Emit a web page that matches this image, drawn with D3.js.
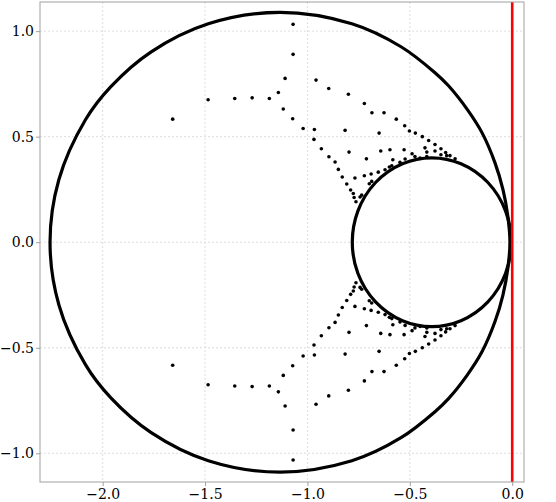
<!DOCTYPE html>
<html>
<head>
<meta charset="utf-8">
<script src="https://cdn.jsdelivr.net/npm/d3@7"></script>
<style>
  body { margin: 0; background: #fff; }
  .tick text { font-family: "DejaVu Serif", serif; font-size: 14px; fill: #000; }
</style>
</head>
<body>
<svg id="chart"></svg>
<script>
// ticks
const xTicks = [-2.0, -1.5, -1.0, -0.5, 0.0];
const yTicks = [-1.0, -0.5, 0.0, 0.5, 1.0];

// outer boundary curve (x, y)
const outerX = [-0.011, -0.021, -0.045, -0.084, -0.147, -0.218, -0.311, -0.377, -0.543, -0.783, -1.134, -1.484, -1.763, -1.961, -2.084, -2.214, -2.257,
                -2.214, -2.084, -1.961, -1.763, -1.484, -1.134, -0.783, -0.543, -0.377, -0.311, -0.218, -0.147, -0.084, -0.045, -0.021];
const outerY = [0.000, 0.121, 0.249, 0.376, 0.518, 0.627, 0.741, 0.803, 0.926, 1.035, 1.089, 1.035, 0.902, 0.736, 0.580, 0.296, 0.000,
                -0.296, -0.580, -0.736, -0.902, -1.035, -1.089, -1.035, -0.926, -0.803, -0.741, -0.627, -0.518, -0.376, -0.249, -0.121];

// inner circle
const innerCx = -0.393, innerRx = 0.388, innerRy = 0.400;

// scattered points (upper half then lower half)
const dotsUpper = [
  [-1.658, 0.583], [-1.485, 0.675], [-1.355, 0.681], [-1.270, 0.684], [-1.186, 0.681],
  [-1.142, 0.709], [-1.109, 0.776], [-1.118, 0.631], [-1.072, 0.585], [-1.021, 0.539],
  [-0.966, 0.534], [-0.968, 0.487], [-0.932, 0.443], [-0.895, 0.405], [-0.865, 0.380],
  [-0.849, 0.345], [-0.830, 0.309], [-0.808, 0.276], [-0.789, 0.247], [-0.776, 0.231],
  [-0.772, 0.212], [-0.763, 0.192], [-0.743, 0.214], [-0.735, 0.223], [-0.958, 0.768],
  [-0.896, 0.728], [-0.800, 0.701], [-0.816, 0.530], [-0.797, 0.427], [-1.070, 1.032],
  [-1.070, 0.890], [-0.722, 0.657], [-0.685, 0.613], [-0.626, 0.613], [-0.566, 0.583],
  [-0.525, 0.552], [-0.502, 0.527], [-0.473, 0.517], [-0.439, 0.500], [-0.408, 0.482],
  [-0.377, 0.463], [-0.348, 0.443], [-0.325, 0.425], [-0.304, 0.410], [-0.279, 0.395],
  [-0.650, 0.517], [-0.712, 0.395], [-0.642, 0.432], [-0.597, 0.438], [-0.528, 0.438],
  [-0.489, 0.419], [-0.426, 0.447], [-0.417, 0.427], [-0.377, 0.432], [-0.348, 0.414],
  [-0.320, 0.410], [-0.583, 0.391], [-0.548, 0.378], [-0.523, 0.394], [-0.475, 0.406],
  [-0.450, 0.399], [-0.417, 0.406], [-0.768, 0.304], [-0.722, 0.315], [-0.689, 0.323],
  [-0.654, 0.332], [-0.621, 0.343], [-0.600, 0.356], [-0.588, 0.362], [-0.698, 0.277],
  [-0.686, 0.288]
];
const dotsLower = [
  [-1.658, -0.583], [-1.485, -0.675], [-1.355, -0.681], [-1.270, -0.684], [-1.186, -0.681],
  [-1.142, -0.709], [-1.109, -0.776], [-1.118, -0.631], [-1.072, -0.585], [-1.021, -0.539],
  [-0.966, -0.534], [-0.968, -0.487], [-0.932, -0.443], [-0.895, -0.405], [-0.865, -0.380],
  [-0.849, -0.345], [-0.830, -0.309], [-0.808, -0.276], [-0.789, -0.247], [-0.776, -0.231],
  [-0.772, -0.212], [-0.763, -0.192], [-0.743, -0.214], [-0.735, -0.223], [-0.958, -0.768],
  [-0.896, -0.728], [-0.800, -0.701], [-0.816, -0.530], [-0.797, -0.427], [-1.070, -1.032],
  [-1.070, -0.890], [-0.722, -0.657], [-0.685, -0.613], [-0.626, -0.613], [-0.566, -0.583],
  [-0.525, -0.552], [-0.502, -0.527], [-0.473, -0.517], [-0.439, -0.500], [-0.408, -0.482],
  [-0.377, -0.463], [-0.348, -0.443], [-0.325, -0.425], [-0.304, -0.410], [-0.279, -0.395],
  [-0.650, -0.517], [-0.712, -0.395], [-0.642, -0.432], [-0.597, -0.438], [-0.528, -0.438],
  [-0.489, -0.419], [-0.426, -0.447], [-0.417, -0.427], [-0.377, -0.432], [-0.348, -0.414],
  [-0.320, -0.410], [-0.583, -0.391], [-0.548, -0.378], [-0.523, -0.394], [-0.475, -0.406],
  [-0.450, -0.399], [-0.417, -0.406], [-0.768, -0.304], [-0.722, -0.315], [-0.689, -0.323],
  [-0.654, -0.332], [-0.621, -0.343], [-0.600, -0.356], [-0.588, -0.362], [-0.698, -0.277],
  [-0.686, -0.288]
];

const width = 556;
const height = 502;
const margin = { top: 2, right: 32, bottom: 20, left: 40 };

const xScale = d3.scaleLinear()
    .domain([-2.306, 0.0576])
    .range([margin.left, width - margin.right]);

const yScale = d3.scaleLinear()
    .domain([-1.136, 1.138])
    .range([height - margin.bottom, margin.top]);

const svg = d3.select("#chart")
    .attr("width", width)
    .attr("height", height);

const fmt = d => d3.format(".1f")(d).replace("-", "\u2212");

// grid
svg.append("g")
    .selectAll("line")
    .data(xTicks)
    .join("line")
    .attr("x1", d => xScale(d)).attr("x2", d => xScale(d))
    .attr("y1", margin.top).attr("y2", height - margin.bottom)
    .attr("stroke", "#d4d4d4").attr("stroke-width", 0.8).attr("stroke-dasharray", "2,2");

svg.append("g")
    .selectAll("line")
    .data(yTicks)
    .join("line")
    .attr("y1", d => yScale(d)).attr("y2", d => yScale(d))
    .attr("x1", margin.left).attr("x2", width - margin.right)
    .attr("stroke", "#d4d4d4").attr("stroke-width", 0.8).attr("stroke-dasharray", "2,2");

// outer curve
const pts = outerX.map((x, i) => [x, outerY[i]]);
svg.append("path")
    .datum(pts)
    .attr("fill", "none")
    .attr("stroke", "#000")
    .attr("stroke-width", 3.2)
    .attr("d", d3.line()
        .x(d => xScale(d[0]))
        .y(d => yScale(d[1]))
        .curve(d3.curveCatmullRomClosed));

// inner circle
svg.append("ellipse")
    .attr("cx", xScale(innerCx))
    .attr("cy", yScale(0))
    .attr("rx", xScale(innerCx + innerRx) - xScale(innerCx))
    .attr("ry", yScale(0) - yScale(innerRy))
    .attr("fill", "none")
    .attr("stroke", "#000")
    .attr("stroke-width", 3.2);

// points
svg.append("g")
    .selectAll("circle")
    .data(dotsUpper.concat(dotsLower))
    .join("circle")
    .attr("cx", d => xScale(d[0]))
    .attr("cy", d => yScale(d[1]))
    .attr("r", 1.8)
    .attr("fill", "#000");

// red line at x = 0
svg.append("line")
    .attr("x1", xScale(0)).attr("x2", xScale(0))
    .attr("y1", margin.top).attr("y2", height - margin.bottom)
    .attr("stroke", "#ff0000")
    .attr("stroke-width", 2.6);

// frame
svg.append("rect")
    .attr("x", margin.left).attr("y", margin.top)
    .attr("width", width - margin.left - margin.right)
    .attr("height", height - margin.top - margin.bottom)
    .attr("fill", "none")
    .attr("stroke", "#a0a0a0")
    .attr("stroke-width", 1);

// axes
const xAxis = svg.append("g")
    .attr("transform", `translate(0, ${height - margin.bottom})`)
    .call(d3.axisBottom(xScale).tickValues(xTicks).tickFormat(fmt).tickSize(4).tickPadding(3));

const yAxis = svg.append("g")
    .attr("transform", `translate(${margin.left}, 0)`)
    .call(d3.axisLeft(yScale).tickValues(yTicks).tickFormat(fmt).tickSize(4).tickPadding(2));

[xAxis, yAxis].forEach(g => {
  g.select(".domain").remove();
  g.selectAll(".tick line").attr("stroke", "#a0a0a0");
});
</script>
</body>
</html>
